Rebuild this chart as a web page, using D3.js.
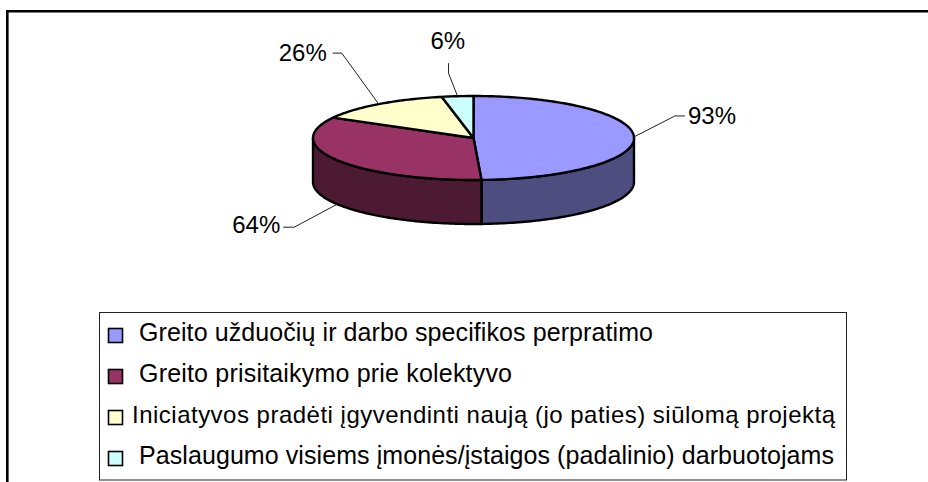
<!DOCTYPE html>
<html><head><meta charset="utf-8">
<style>html,body{margin:0;padding:0;background:#fff}svg{display:block}text{font-family:"Liberation Sans",Arial,sans-serif;fill:#000}</style>
<script src="https://d3js.org/d3.v7.min.js"></script></head>
<body><svg id="c" width="928" height="482"></svg>
<script>
const categories = ["Greito užduočių ir darbo specifikos perpratimo","Greito prisitaikymo prie kolektyvo","Iniciatyvos pradėti įgyvendinti naują (jo paties) siūlomą projektą","Paslaugumo visiems įmonės/įstaigos (padalinio) darbuotojams"];
const values = [93,64,26,6];
const topColors = ["#9999FF","#993366","#FFFFCC","#CCFFFF"];
const sideColors = ["#4D4D80","#4D1A33","#808066","#668080"];

const W=928,H=482,cx=473.5,cy=138,rx=160.5,ry=42,depth=44;
const svg=d3.select("#c");
svg.append("path").attr("d",`M${W},11.3H7.3V${H}`).attr("fill","none").attr("stroke","#000").attr("stroke-width",2.6);

const pie=d3.pie().sort(null).value(d=>d);
const arcs=pie(values);
const px=a=>cx+rx*Math.sin(a), py=(a,dz=0)=>cy-ry*Math.cos(a)+dz;
const samples=(a0,a1)=>{const n=Math.max(2,Math.ceil((a1-a0)/0.02));return d3.range(n+1).map(i=>a0+(a1-a0)*i/n);};
const line=d3.line();

// side wall (only the front half of the pie is visible)
const front0=Math.PI/2, front1=3*Math.PI/2;
arcs.forEach((d,i)=>{
  const a0=Math.max(d.startAngle,front0), a1=Math.min(d.endAngle,front1);
  if(a1<=a0) return;
  const s=samples(a0,a1);
  const pts=s.map(a=>[px(a),py(a)]).concat(s.slice().reverse().map(a=>[px(a),py(a,depth)]));
  svg.append("path").attr("d",line(pts)+"Z").attr("fill",sideColors[i]).attr("stroke","#000").attr("stroke-width",2.4).attr("stroke-linejoin","round");
});
// top slices
arcs.forEach((d,i)=>{
  const pts=[[cx,cy]].concat(samples(d.startAngle,d.endAngle).map(a=>[px(a),py(a)]));
  svg.append("path").attr("d",line(pts)+"Z").attr("fill",topColors[i]).attr("stroke","#000").attr("stroke-width",2.4).attr("stroke-linejoin","round");
});

// data labels with leader lines
const labelLayout=[
  {elbow:[41,-21],end:[51,-21],tx:54,ty:-13,dz:0},
  {elbow:[-43,23],end:[-54,23],tx:-105,ty:29,dz:depth},
  {elbow:[-37,-51],end:[-46,-51],tx:-100,ty:-43,dz:0},
  {elbow:[-9,-23],end:[-9,-33],tx:-27,ty:-47,dz:0}
];
arcs.forEach((d,i)=>{
  const m=(d.startAngle+d.endAngle)/2, ax=px(m), ay=py(m,labelLayout[i].dz), L=labelLayout[i];
  svg.append("path").attr("d",line([[ax,ay],[ax+L.elbow[0],ay+L.elbow[1]],[ax+L.end[0],ay+L.end[1]]]))
    .attr("fill","none").attr("stroke","#222").attr("stroke-width",1);
  svg.append("text").attr("x",ax+L.tx).attr("y",ay+L.ty).attr("font-size",24).text(Math.round(d.value)+"%");
});

// legend
svg.append("rect").attr("x",99.5).attr("y",312.5).attr("width",747).attr("height",167.5).attr("fill","#fff").attr("stroke","#222").attr("stroke-width",1);
const rowY=d3.scalePoint().domain(d3.range(categories.length)).range([335,458]);
const textX=[139,139,132,139], textW=[514,373,703,695], textSize=[25,25,24,25];
categories.forEach((c,i)=>{
  const y=rowY(i);
  svg.append("rect").attr("x",108.5).attr("y",y-6.5).attr("width",14).attr("height",14).attr("fill",topColors[i]).attr("stroke","#000").attr("stroke-width",1.6);
  svg.append("text").attr("x",textX[i]).attr("y",y+6).attr("font-size",textSize[i])
    .attr("textLength",textW[i]).attr("lengthAdjust","spacing").text(c);
});
</script></body></html>
